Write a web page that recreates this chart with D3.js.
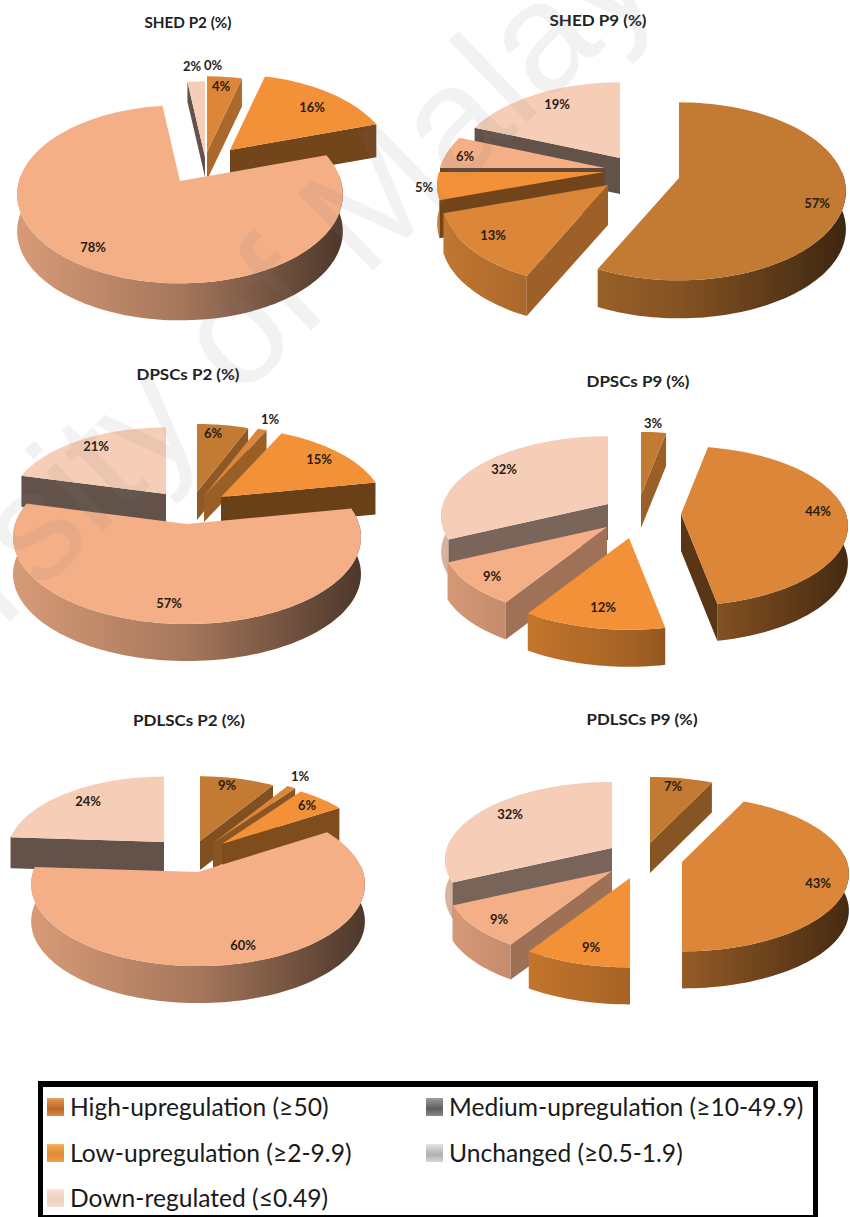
<!DOCTYPE html>
<html><head><meta charset="utf-8">
<script src="https://cdn.jsdelivr.net/npm/d3@7/dist/d3.min.js"></script>
<style>html,body{margin:0;padding:0;background:#fff}svg{display:block}</style>
</head><body><svg id="c" width="850" height="1217"></svg>
<script>
// ---- data ----
const legendLabels = ["High-upregulation (≥50)","Medium-upregulation (≥10-49.9)","Low-upregulation (≥2-9.9)","Unchanged (≥0.5-1.9)","Down-regulated (≤0.49)"];
const chartTitles = ["SHED P2 (%)","SHED P9 (%)","DPSCs P2 (%)","DPSCs P9 (%)","PDLSCs P2 (%)","PDLSCs P9 (%)"];
const shedP2  = [0,4,16,78,2];
const shedP9  = [57,13,5,6,19];
const dpscP2  = [6,1,15,57,21];
const dpscP9  = [3,44,12,9,32];
const pdlscP2 = [9,1,6,60,24];
const pdlscP9 = [7,43,9,9,32];
const seriesValues = [shedP2,shedP9,dpscP2,dpscP9,pdlscP2,pdlscP9];

// ---- styles ----
const sliceColors = ["#C37A33","#DB8638","#F29137","#F4AF87","#F6CDB6"];
const swatchColors = [["#E8A060","#B9662C","#DC8A48"],["#A0A0A0","#5E5E5E","#8A8A8A"],["#F8B868","#E08A34","#F0A04C"],["#E6E6E6","#B0B0B0","#D6D6D6"],["#F8E6DC","#F0D0C0","#F6DCCF"]];

// ---- layout: per chart disc size, title, per slice [tipX, tipY, scale, depth], label centres ----
const layout = [
 {rx:161,ry:87,t:[188,23],tw:87,
  s:[[207,150,1,30],[207,152,1,28],[230,150,1,33],[180,181,1,37],[205,157,1,20]],
  l:[[213,65],[221,86],[312,107],[93,247],[192,66]]},
 {rx:165,ry:87,t:[598,21],tw:97,
  s:[[679,178,1,38],[608,185,1,40],[604,172,1,38],[605,168,1,34],[620,158,1,36]],
  l:[[817,203],[493,235],[424,187],[465,156],[557,104]]},
 {rx:172,ry:85,t:[188,375],tw:103,
  s:[[197,492,.92,28],[204,496,.97,26],[221,497,.94,32],[187,524,1,37],[166,494,.9,31]],
  l:[[213,433],[270,419],[319,459],[169,603],[96,446]]},
 {rx:165,ry:78,t:[638,382],tw:103,
  s:[[641,495,.93,33],[681,514,1,37],[629,538,1,37],[607,527,1,37],[608,504,1,36]],
  l:[[653,423],[818,511],[603,607],[492,576],[504,469]]},
 {rx:165,ry:80,t:[189,721],tw:112,
  s:[[200,841,.93,29],[213,843,.95,27],[222,844,.91,33],[198,872,1,37],[164,842,.94,31]],
  l:[[227,785],[300,776],[307,805],[243,945],[88,801]]},
 {rx:165,ry:76,t:[642,720],tw:111,
  s:[[650,843,1,30],[682,862,1,37],[630,878,1,37],[612,871,1,35],[612,848,1,36]],
  l:[[673,786],[818,883],[591,947],[499,919],[510,814]]}
];
const perspective = 0.15;

const svg = d3.select("#c");
const defs = svg.append("defs");
const root = svg.append("g");
const shade = (col,f)=>{const c=d3.rgb(col);return d3.rgb(c.r*f,c.g*f,c.b*f).formatHex();};
const line = d3.line();
const pie = d3.pie().sort(null).value(d=>d);

function project(a,rx,ry,k){
  const s = 1/(1+perspective*Math.cos(a));
  return [Math.sin(a)*rx*s*k, -Math.cos(a)*ry*s*k];
}

seriesValues.forEach((vals,ci)=>{
  const L = layout[ci];
  const arcs = pie(vals).map((d,i)=>({d,i,tip:L.s[i]}));
  const g = root.append("g");
  arcs.filter(o=>o.d.value>0).sort((a,b)=>a.tip[1]-b.tip[1]).forEach(o=>{
    const [tx,ty,k,depth] = o.tip, col = sliceColors[o.i];
    const a0=o.d.startAngle, a1=o.d.endAngle;
    const n = Math.max(2,Math.ceil((a1-a0)/0.03));
    const angs = d3.range(n+1).map(j=>a0+(a1-a0)*j/n);
    const pt = a=>{const p=project(a,L.rx,L.ry,k);return [tx+p[0],ty+p[1]];};
    const topArc = angs.map(pt);
    // outer wall, only where it faces the viewer
    const frontArc = angs.filter(a=>Math.cos(a)<0.1).map(pt);
    if(frontArc.length>1){
      const gid=`w${ci}_${o.i}`;
      const lg=defs.append("linearGradient").attr("id",gid).attr("gradientUnits","userSpaceOnUse")
        .attr("x1",tx-L.rx).attr("x2",tx+L.rx).attr("y1",0).attr("y2",0);
      [[0,.88],[.5,.68],[1,.32]].forEach(s=>lg.append("stop").attr("offset",s[0]).attr("stop-color",shade(col,s[1])));
      const wall=frontArc.concat(frontArc.slice().reverse().map(p=>[p[0],p[1]+depth]));
      g.append("path").attr("d",line(wall)+"Z").attr("fill",`url(#${gid})`);
    }
    // radial cut faces that look toward the viewer
    const faces=[];
    if(Math.sin(a0)<-1e-6) faces.push(topArc[0]);
    if(Math.sin(a1)>1e-6) faces.push(topArc[n]);
    faces.forEach(c=>{
      const ex=c[0]-tx, ey=c[1]-ty, len=Math.hypot(ex,ey)||1;
      let nx=-ey/len, ny=ex/len; if(ny<0){nx=-nx;ny=-ny;}
      const f=0.4+0.42*Math.max(0,nx);
      g.append("path").attr("d",line([[tx,ty],c,[c[0],c[1]+depth],[tx,ty+depth]])+"Z").attr("fill",shade(col,f));
    });
    // top
    g.append("path").attr("d",line([[tx,ty]].concat(topArc))+"Z").attr("fill",col);
  });
  // labels
  g.selectAll("text.lab").data(vals).join("text").attr("class","lab")
    .attr("x",(d,i)=>L.l[i][0]).attr("y",(d,i)=>L.l[i][1]).attr("dy","0.35em")
    .attr("text-anchor","middle").attr("font-family","Lato").attr("font-weight",700)
    .attr("font-size",13).attr("fill","#2a1c14").text(d=>d+"%");
  g.append("text").attr("x",L.t[0]).attr("y",L.t[1]).attr("dy","0.35em").attr("text-anchor","middle")
    .attr("font-family","Lato").attr("font-weight",700).attr("font-size",15).attr("fill","#222")
    .attr("textLength",L.tw).attr("lengthAdjust","spacingAndGlyphs").text(chartTitles[ci]);
});

// watermark
svg.append("text").attr("transform","translate(-285,906) rotate(-44)")
  .attr("font-family","Liberation Sans").attr("font-size",156).attr("fill","#808080").attr("fill-opacity",.1)
  .text("University of Malaya");

// legend
const lg = svg.append("g");
[[38,1081,780,6],[38,1081,5,136],[813,1081,5,136],[38,1215,780,2]].forEach(r=>{
  lg.append("rect").attr("x",r[0]).attr("y",r[1]).attr("width",r[2]).attr("height",r[3]).attr("fill","#000");
});
const legendCols=[47,426], legendRows=[1107,1153,1198];
const legendPos=[[0,0],[1,0],[0,1],[1,1],[0,2]];
legendLabels.forEach((t,i)=>{
  const x=legendCols[legendPos[i][0]], y=legendRows[legendPos[i][1]];
  const gr=defs.append("linearGradient").attr("id","lg"+i).attr("x1",0).attr("x2",0).attr("y1",0).attr("y2",1);
  gr.append("stop").attr("offset",0).attr("stop-color",swatchColors[i][0]);
  gr.append("stop").attr("offset",.15).attr("stop-color",swatchColors[i][2]);
  gr.append("stop").attr("offset",.6).attr("stop-color",swatchColors[i][1]);
  gr.append("stop").attr("offset",1).attr("stop-color",swatchColors[i][2]);
  lg.append("rect").attr("x",x).attr("y",y-9).attr("width",17).attr("height",18).attr("fill",`url(#lg${i})`);
  lg.append("text").attr("x",x+23).attr("y",y).attr("dy","0.35em").attr("font-family","Lato").attr("font-size",24.6).attr("fill","#1a1a1a").text(t);
});
</script></body></html>
